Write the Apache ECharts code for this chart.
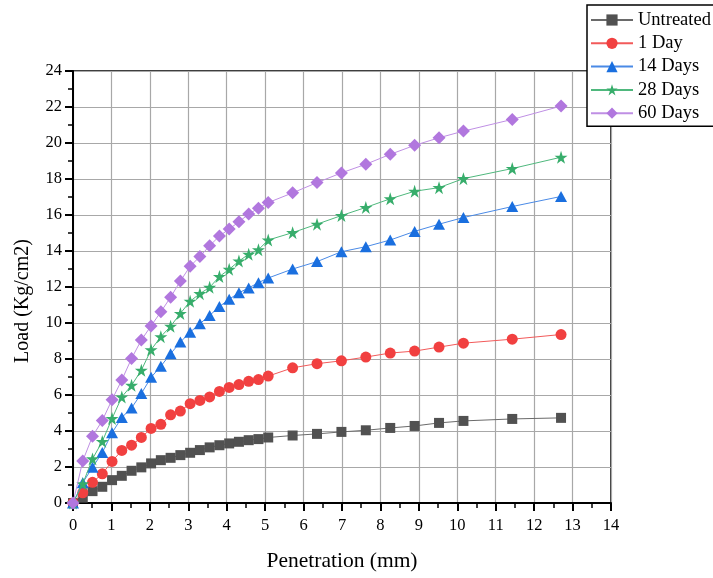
<!DOCTYPE html>
<html>
<head>
<meta charset="utf-8">
<script src="https://cdn.jsdelivr.net/npm/echarts@6/dist/echarts.min.js"></script>
<style>html,body{margin:0;padding:0;background:#fff}#c{width:713px;height:578px}</style>
</head>
<body>
<div id="c"></div>
<script>
var penetration = [0, 0.254, 0.508, 0.762, 1.016, 1.27, 1.524, 1.778, 2.032, 2.286, 2.54, 2.794, 3.048, 3.302, 3.556, 3.81, 4.064, 4.318, 4.572, 4.826, 5.08, 5.715, 6.35, 6.985, 7.62, 8.255, 8.89, 9.525, 10.16, 11.43, 12.7];
var seriesNames = ['Untreated', '1 Day', '14 Days', '28 Days', '60 Days'];
var untreated = [0, 0.3, 0.66, 0.90, 1.27, 1.51, 1.79, 1.98, 2.20, 2.38, 2.51, 2.66, 2.79, 2.94, 3.09, 3.21, 3.31, 3.40, 3.49, 3.55, 3.64, 3.75, 3.84, 3.95, 4.04, 4.17, 4.28, 4.45, 4.56, 4.67, 4.73];
var day1 = [0, 0.57, 1.15, 1.62, 2.31, 2.92, 3.21, 3.64, 4.14, 4.37, 4.90, 5.11, 5.52, 5.70, 5.89, 6.20, 6.42, 6.58, 6.76, 6.86, 7.05, 7.51, 7.74, 7.90, 8.11, 8.33, 8.44, 8.66, 8.88, 9.10, 9.36];
var day14 = [0, 1.13, 1.98, 2.80, 3.90, 4.75, 5.28, 6.08, 6.98, 7.60, 8.29, 8.94, 9.49, 9.96, 10.42, 10.91, 11.32, 11.68, 11.95, 12.24, 12.50, 13.00, 13.41, 13.96, 14.24, 14.61, 15.09, 15.49, 15.86, 16.47, 17.03];
var day28 = [0, 1.07, 2.45, 3.42, 4.69, 5.89, 6.54, 7.37, 8.51, 9.24, 9.82, 10.53, 11.21, 11.63, 11.98, 12.58, 12.98, 13.44, 13.82, 14.07, 14.61, 15.02, 15.49, 15.97, 16.42, 16.90, 17.32, 17.52, 18.02, 18.58, 19.21];
var day60 = [0, 2.34, 3.71, 4.58, 5.74, 6.83, 8.03, 9.05, 9.84, 10.62, 11.43, 12.33, 13.15, 13.69, 14.29, 14.83, 15.22, 15.62, 16.05, 16.38, 16.69, 17.23, 17.80, 18.34, 18.82, 19.37, 19.87, 20.29, 20.66, 21.31, 22.05];

var allValues = [untreated, day1, day14, day28, day60];
var markerColors = ['#515151', '#F14040', '#1A6FDF', '#37AD6B', '#B177DE'];
var lineColors = ['#6a6a6a', '#f25a5a', '#4a8ae6', '#4fb87d', '#bf8fe4'];
var starPath = 'path://M50,0 L61.2,34.5 L97.6,34.5 L68.2,55.9 L79.4,90.5 L50,69.1 L20.6,90.5 L31.8,55.9 L2.4,34.5 L38.8,34.5 Z';
var symbols = ['rect', 'circle', 'triangle', starPath, 'diamond'];
var symbolSizes = [10, 11, [12, 11], 13, 13];

var FONT = 'Liberation Serif';
var series = seriesNames.map(function (name, i) {
  return {
    name: name,
    type: 'line',
    data: penetration.map(function (x, k) { return [x, allValues[i][k]]; }),
    symbol: symbols[i],
    symbolSize: symbolSizes[i],
    showAllSymbol: true,
    itemStyle: { color: markerColors[i], opacity: 1 },
    lineStyle: { color: lineColors[i], width: 1 },
    emphasis: { disabled: true },
    animation: false,
    z: 2 + i
  };
});

var chart = echarts.init(document.getElementById('c'), null, { renderer: 'canvas' });
chart.setOption({
  backgroundColor: '#fff',
  animation: false,
  grid: { left: 73, right: 102, top: 71, bottom: 75, show: true, borderColor: '#000', borderWidth: 1.5, backgroundColor: 'transparent' },
  legend: {
    orient: 'vertical', left: 587, top: 5,
    itemWidth: 42, itemHeight: 14, itemGap: 4.3,
    padding: [5.5, 6, 3.5, 3],
    backgroundColor: '#fff', borderColor: '#000', borderWidth: 1.5,
    lineStyle: { width: 2 },
    textStyle: { fontFamily: FONT, fontSize: 18.5, color: '#000' },
    data: seriesNames
  },
  xAxis: {
    type: 'value', min: 0, max: 14, interval: 1,
    name: 'Penetration (mm)', nameLocation: 'middle', nameGap: 47,
    nameTextStyle: { fontFamily: FONT, fontSize: 21.5, color: '#000' },
    axisLine: { show: true, onZero: false, lineStyle: { color: '#000', width: 2 } },
    axisTick: { show: true, inside: false, length: 8, lineStyle: { color: '#000', width: 2 } },
    minorTick: { show: true, splitNumber: 2, length: 5, lineStyle: { color: '#000', width: 1.5 } },
    axisLabel: { fontFamily: FONT, fontSize: 16.5, color: '#000', margin: 14 },
    splitLine: { show: true, lineStyle: { color: '#a8a8a8', width: 1.2 } }
  },
  yAxis: {
    type: 'value', min: 0, max: 24, interval: 2,
    name: 'Load (Kg/cm2)', nameLocation: 'middle', nameGap: 40,
    nameTextStyle: { fontFamily: FONT, fontSize: 20, color: '#000', padding: [0, 28, 0, 0] },
    axisLine: { show: true, onZero: false, lineStyle: { color: '#000', width: 2 } },
    axisTick: { show: true, inside: false, length: 8, lineStyle: { color: '#000', width: 2 } },
    minorTick: { show: true, splitNumber: 2, length: 5, lineStyle: { color: '#000', width: 1.5 } },
    axisLabel: { fontFamily: FONT, fontSize: 16.5, color: '#000', margin: 11 },
    splitLine: { show: true, lineStyle: { color: '#a8a8a8', width: 1.2 } }
  },
  series: series
});
</script>
</body>
</html>
